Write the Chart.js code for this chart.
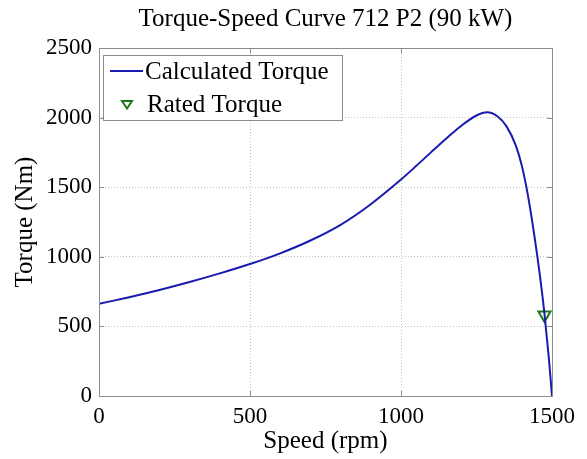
<!DOCTYPE html>
<html>
<head>
<meta charset="utf-8">
<script src="https://cdn.jsdelivr.net/npm/chart.js@4.4.0/dist/chart.umd.min.js"></script>
<style>
  html, body { margin: 0; padding: 0; background: #fff; }
  #wrap { width: 587px; height: 459px; }
</style>
</head>
<body>
<div id="wrap"><canvas id="myCanvas"></canvas></div>
<script>
// values
const speedRpm = [0, 100, 200, 300, 400, 500, 600, 700, 800, 900, 1000, 1050, 1100, 1150, 1200, 1250, 1285, 1320, 1350, 1380, 1400, 1420, 1440, 1460, 1475, 1490, 1500];
const torqueNm = [662, 710, 762, 819, 881, 948, 1025, 1117, 1230, 1378, 1555, 1652, 1752, 1850, 1942, 2015, 2038, 2008, 1935, 1800, 1655, 1445, 1175, 865, 592, 262, 0];
const ratedSpeed = [1475];
const ratedTorque = [582];
const xTicks = [0, 500, 1000, 1500];
const yTicks = [0, 500, 1000, 1500, 2000, 2500];

const serif = "'Liberation Serif', 'Times New Roman', serif";
const lineBlue = '#1a1ab0';
const markGreen = '#1a7a1a';

// MATLAB-style box around the axes
const boxPlugin = {
  id: 'axesBox',
  afterDraw(chart) {
    const { ctx, chartArea: a } = chart;
    ctx.save();
    ctx.setLineDash([]);
    ctx.strokeStyle = '#8c8c8c';
    ctx.lineWidth = 1;
    ctx.strokeRect(a.left + 0.5, a.top + 0.5, a.right - a.left, a.bottom - a.top);
    // inward ticks
    const xs = chart.scales.x, ys = chart.scales.y;
    ctx.beginPath();
    xTicks.forEach(v => {
      const px = Math.round(xs.getPixelForValue(v)) + 0.5;
      ctx.moveTo(px, a.bottom); ctx.lineTo(px, a.bottom - 5);
      ctx.moveTo(px, a.top); ctx.lineTo(px, a.top + 5);
    });
    yTicks.forEach(v => {
      const py = Math.round(ys.getPixelForValue(v)) + 0.5;
      ctx.moveTo(a.left, py); ctx.lineTo(a.left + 5, py);
      ctx.moveTo(a.right, py); ctx.lineTo(a.right - 5, py);
    });
    ctx.stroke();
    ctx.restore();
  }
};

// legend box in the upper left corner of the axes
const legendPlugin = {
  id: 'boxLegend',
  afterDraw(chart) {
    const { ctx, chartArea: a } = chart;
    const ds = chart.data.datasets;
    const x0 = a.left + 4, y0 = a.top + 7, w = 239, h = 65;
    ctx.save();
    ctx.setLineDash([]);
    ctx.fillStyle = '#fff';
    ctx.fillRect(x0, y0, w, h);
    ctx.strokeStyle = '#8c8c8c';
    ctx.lineWidth = 1;
    ctx.strokeRect(x0 + 0.5, y0 + 0.5, w, h);
    ctx.font = '25px ' + serif;
    ctx.fillStyle = '#000';
    ctx.textBaseline = 'middle';
    // entry 1: line
    let y = y0 + 16;
    ctx.strokeStyle = ds[0].borderColor;
    ctx.lineWidth = 2;
    ctx.beginPath(); ctx.moveTo(x0 + 7, y); ctx.lineTo(x0 + 40, y); ctx.stroke();
    ctx.fillText(ds[0].label, x0 + 42, y + 1);
    // entry 2: marker
    y = y0 + 49;
    ctx.strokeStyle = ds[1].borderColor;
    ctx.lineWidth = 2;
    const cx = x0 + 24, r = 5;
    ctx.beginPath();
    ctx.moveTo(cx - r, y - r * 0.6);
    ctx.lineTo(cx + r, y - r * 0.6);
    ctx.lineTo(cx, y + r * 0.9);
    ctx.closePath();
    ctx.stroke();
    ctx.fillText(ds[1].label, x0 + 44, y + 1);
    ctx.restore();
  }
};

const ctx = document.getElementById('myCanvas').getContext('2d');
const torqueChart = new Chart(ctx, {
  type: 'line',
  data: {
    datasets: [
      {
        label: 'Calculated Torque',
        data: speedRpm.map((s, i) => ({ x: s, y: torqueNm[i] })),
        borderColor: lineBlue,
        borderWidth: 2,
        pointRadius: 0,
        fill: false,
        cubicInterpolationMode: 'monotone'
      },
      {
        label: 'Rated Torque',
        data: ratedSpeed.map((s, i) => ({ x: s, y: ratedTorque[i] })),
        borderColor: markGreen,
        backgroundColor: 'rgba(0,0,0,0)',
        showLine: false,
        pointStyle: 'triangle',
        rotation: 180,
        pointRadius: 7,
        pointBorderWidth: 2
      }
    ]
  },
  options: {
    responsive: true,
    maintainAspectRatio: false,
    animation: false,
    layout: { padding: { left: 0, right: 35, top: 0, bottom: 0 } },
    plugins: {
      legend: { display: false },
      tooltip: { enabled: false },
      title: {
        display: true,
        fullSize: false,
        text: 'Torque-Speed Curve 712 P2 (90 kW)',
        color: '#000',
        font: { family: serif, size: 25, weight: 'normal' },
        padding: { top: 4, bottom: 14 }
      }
    },
    scales: {
      x: {
        type: 'linear',
        min: 0,
        max: 1500,
        afterBuildTicks: s => { s.ticks = xTicks.map(v => ({ value: v })); },
        afterFit: s => { s.height = 63; },
        grid: { color: '#c4c4c4', lineWidth: 1, drawTicks: false },
        border: { display: false, dash: [1, 2] },
        ticks: { color: '#000', font: { family: serif, size: 23 }, padding: 7, maxRotation: 0, callback: v => String(v) },
        title: {
          display: true,
          text: 'Speed (rpm)',
          color: '#000',
          font: { family: serif, size: 25 },
          padding: { top: 0, bottom: 3 }
        }
      },
      y: {
        min: 0,
        max: 2500,
        afterBuildTicks: s => { s.ticks = yTicks.map(v => ({ value: v })); },
        afterFit: s => { s.width = 99; },
        grid: { color: '#c4c4c4', lineWidth: 1, drawTicks: false },
        border: { display: false, dash: [1, 2] },
        ticks: { color: '#000', font: { family: serif, size: 23 }, padding: 7, callback: v => String(v) },
        title: {
          display: true,
          text: 'Torque (Nm)',
          color: '#000',
          font: { family: serif, size: 25 },
          padding: { top: 10, bottom: 0 }
        }
      }
    }
  },
  plugins: [boxPlugin, legendPlugin]
});
</script>
</body>
</html>
